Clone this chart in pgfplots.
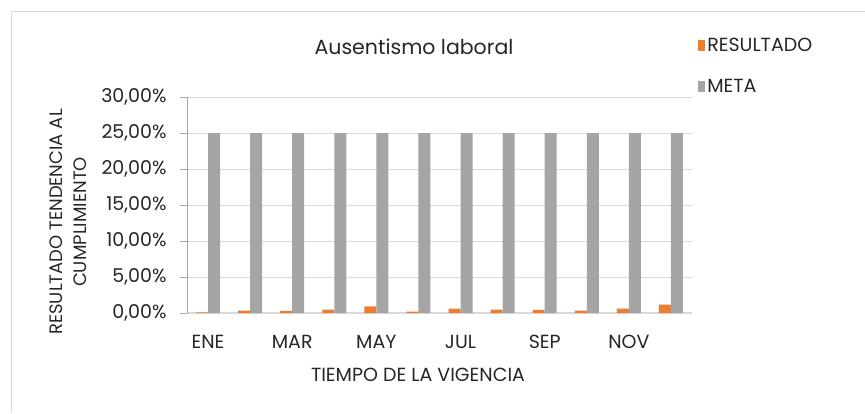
\documentclass[border=0pt]{standalone}
\usepackage{fontspec}
\setmainfont{Poppins}
\usepackage{pgfplots}
\pgfplotsset{compat=1.18}
\definecolor{orangeR}{HTML}{ED7D31}
\definecolor{grayM}{HTML}{A5A5A5}
\definecolor{gridc}{HTML}{D9D9D9}
\definecolor{axc}{HTML}{A6A6A6}
\definecolor{txt}{HTML}{262626}
\begin{document}
\begin{tikzpicture}[x=1pt,y=1pt]
\useasboundingbox (0,0) rectangle (865,413);
\draw[gridc, line width=1pt] (11,0) -- (11,401) -- (865,401);
\begin{axis}[
  at={(187pt,100pt)}, anchor=south west,
  scale only axis, width=505pt, height=216pt,
  xmin=-0.5, xmax=11.5, ymin=0, ymax=30,
  ytick={0,5,...,30},
  xtick={0,2,4,6,8,10},
  xticklabels={ENE,MAR,MAY,JUL,SEP,NOV},
  ybar=0pt, bar width=12pt,
  ymajorgrids, grid style={gridc, line width=1pt},
  axis x line*=bottom, axis y line*=left,
  x axis line style={gridc, line width=1.5pt},
  y axis line style={axc, line width=1pt},
  xtick style={draw=none},
  ytick style={axc, line width=1pt},
  tick align=outside, major tick length=7pt,
  /pgf/number format/assume math mode=true,
  yticklabel={\pgfmathprintnumber[fixed,fixed zerofill,precision=2,use comma]{\tick}\%},
  tick label style={font=\fontsize{19}{22}\selectfont, text=txt},
  yticklabel style={xshift=-10pt},
  xticklabel style={yshift=-12pt},
  legend style={at={(axis description cs:1.012,1.285)}, anchor=north west, draw=none, fill=none,
    font=\fontsize{19}{22}\selectfont, text=txt, row sep=23pt, inner sep=0pt},
  legend cell align=left,
  legend image code/.code={\fill[#1] (0pt,-5.5pt) rectangle (7pt,5.5pt);},
]
\addplot[fill=orangeR, draw=none] coordinates {(0,0.10) (1,0.32) (2,0.28) (3,0.46) (4,0.93) (5,0.18) (6,0.60) (7,0.46) (8,0.42) (9,0.32) (10,0.60) (11,1.15)};
\addplot[fill=grayM, draw=none] coordinates {(0,25) (1,25) (2,25) (3,25) (4,25) (5,25) (6,25) (7,25) (8,25) (9,25) (10,25) (11,25)};
\legend{RESULTADO,META}
\end{axis}
\node[text=txt, font=\fontsize{20.5}{24}\selectfont] at (414,366) {Ausentismo laboral};
\node[text=txt, font=\fontsize{19}{22}\selectfont] at (418,38) {TIEMPO DE LA VIGENCIA};
\node[text=txt, font=\fontsize{18}{24}\selectfont, rotate=90, align=center] at (68,191) {RESULTADO TENDENCIA AL\\CUMPLIMIENTO};
\end{tikzpicture}
\end{document}
